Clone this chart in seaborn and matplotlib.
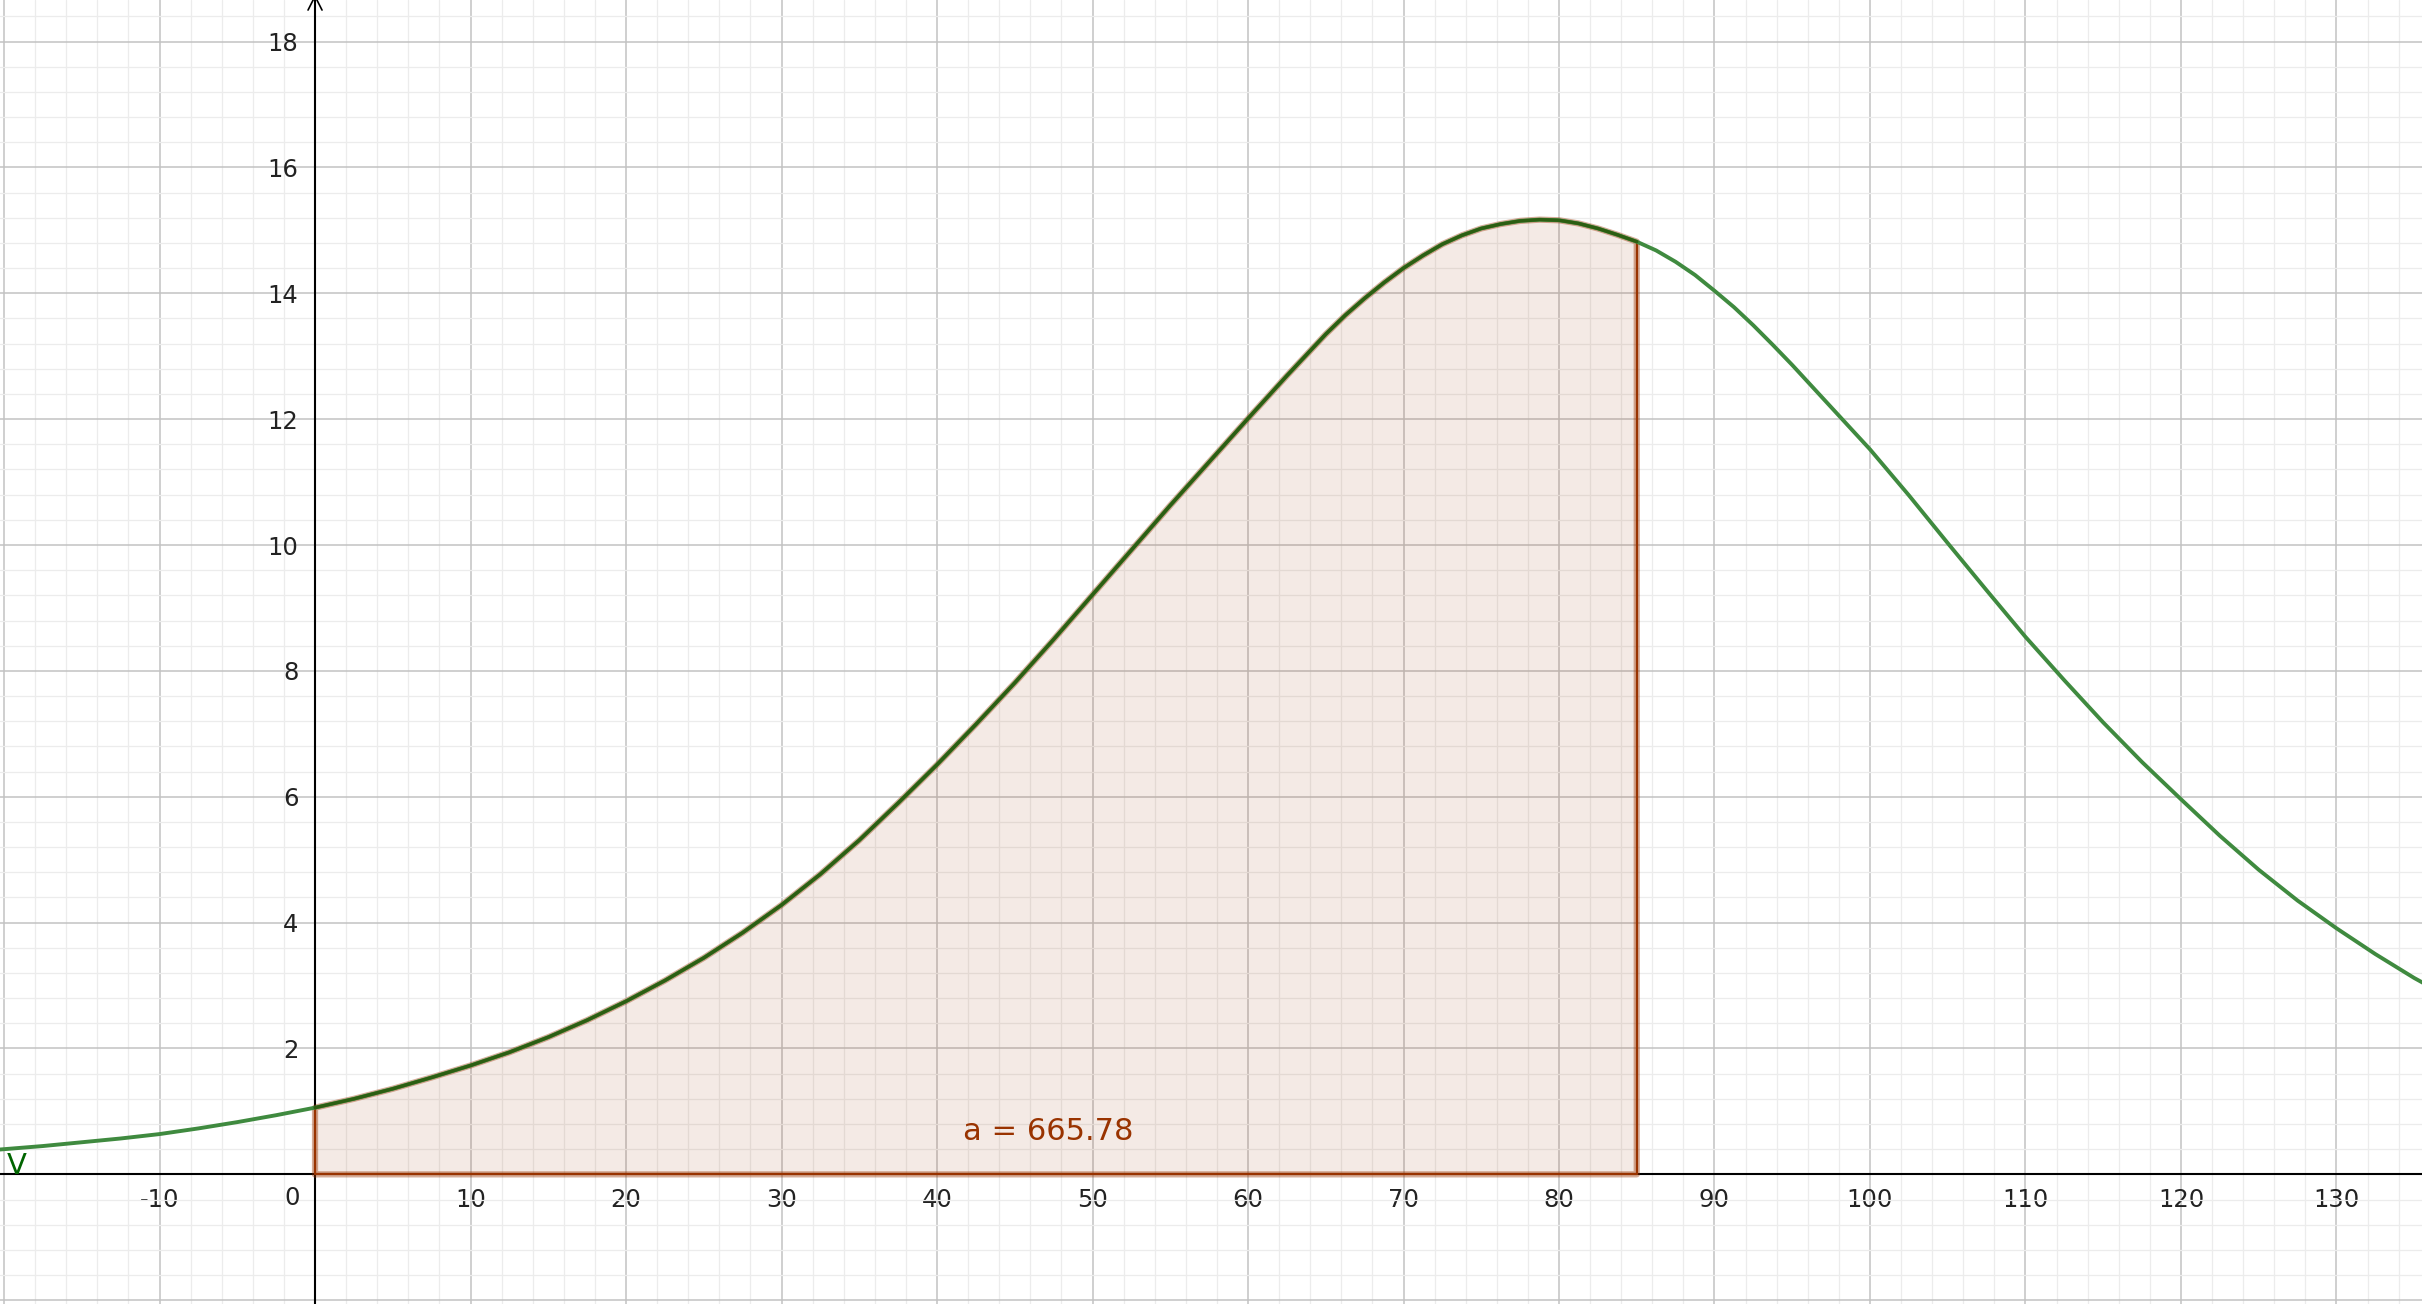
import numpy as np
import pandas as pd
import matplotlib.pyplot as plt
import seaborn as sns
from matplotlib.ticker import MultipleLocator, FuncFormatter

# значения функции V (у вершины шаг мельче)
x_vals = [-22.5, -20, -17.5, -15, -12.5, -10, -7.5, -5, -2.5, 0,
          2.5, 5, 7.5, 10, 12.5, 15, 17.5, 20, 22.5, 25,
          27.5, 30, 32.5, 35, 37.5, 40, 42.5, 45, 47.5, 50,
          52.5, 55, 57.5, 60, 62.5, 65, 66.25, 67.5, 68.75, 70,
          71.25, 72.5, 73.75, 75, 76.25, 77.5, 78.75, 80, 81.25, 82.5,
          83.75, 85, 86.25, 87.5, 88.75, 90, 91.25, 92.5, 93.75, 95,
          97.5, 100, 102.5, 105, 107.5, 110, 112.5, 115, 117.5, 120,
          122.5, 125, 127.5, 130, 132.5, 135, 137.5]
v_vals = [0.35, 0.40, 0.45, 0.51, 0.57, 0.64, 0.73, 0.83, 0.94, 1.06,
          1.20, 1.36, 1.54, 1.73, 1.94, 2.18, 2.45, 2.75, 3.08, 3.44,
          3.84, 4.28, 4.77, 5.31, 5.90, 6.51, 7.15, 7.81, 8.50, 9.21,
          9.92, 10.63, 11.32, 12.01, 12.69, 13.35, 13.65, 13.92, 14.17, 14.40,
          14.60, 14.78, 14.92, 15.03, 15.10, 15.15, 15.17, 15.16, 15.11, 15.03,
          14.93, 14.82, 14.68, 14.50, 14.29, 14.04, 13.78, 13.49, 13.18, 12.86,
          12.19, 11.52, 10.79, 10.03, 9.28, 8.54, 7.85, 7.18, 6.55, 5.96,
          5.38, 4.84, 4.35, 3.91, 3.50, 3.12, 2.78]

# границы закрашенной области и подпись интеграла
area_from = 0
area_to = 85
area_label = "a = 665.78"
func_label = "V"

x_ticks = [-20, -10, 0, 10, 20, 30, 40, 50, 60, 70, 80, 90, 100, 110, 120, 130]
y_ticks = [-2, 0, 2, 4, 6, 8, 10, 12, 14, 16, 18]

df = pd.DataFrame({'x': x_vals, 'v': v_vals})
reg = df[(df['x'] >= area_from) & (df['x'] <= area_to)]

sns.set_theme(style="white")
plt.rcParams['font.family'] = ['DejaVu Sans']

fig = plt.figure(figsize=(24.22, 13.04), dpi=100)
ax = fig.add_axes([0, 0, 1, 1])

# сетка как в GeoGebra
ax.xaxis.set_major_locator(plt.FixedLocator(x_ticks))
ax.yaxis.set_major_locator(plt.FixedLocator(y_ticks))
ax.xaxis.set_minor_locator(MultipleLocator(2))
ax.yaxis.set_minor_locator(MultipleLocator(0.4))
ax.grid(which='major', color='#c2c2c2', lw=1.1, zorder=0)
ax.grid(which='minor', color='#ececec', lw=0.9, zorder=0)
ax.set_axisbelow(True)

# закрашенная область под кривой
ax.fill_between(reg['x'], 0, reg['v'], color='#993300', alpha=0.1, lw=0, zorder=1)
bx = [area_from] + list(reg['x']) + [area_to, area_from]
by = [0] + list(reg['v']) + [0, 0]
ax.plot(bx, by, color='#993300', lw=4.5, alpha=0.4, zorder=3, solid_joinstyle='round')
ax.plot([area_from, area_from, area_to, area_to], [reg['v'].iloc[0], 0, 0, reg['v'].iloc[-1]],
        color='#993300', lw=1.6, zorder=3.1)

# сама функция
sns.lineplot(data=df, x='x', y='v', color='#3f8a3f', lw=2.8, ax=ax, zorder=4)
sns.lineplot(data=reg, x='x', y='v', color='#2c5e12', lw=2.4, ax=ax, zorder=4.1)

# оси через начало координат
for side in ['top', 'right']:
    ax.spines[side].set_visible(False)
ax.spines['left'].set_position(('data', 0))
ax.spines['bottom'].set_position(('data', 0))
for side in ['left', 'bottom']:
    ax.spines[side].set_color('black')
    ax.spines[side].set_linewidth(1.5)
    ax.spines[side].set_zorder(2.5)

ax.xaxis.set_major_formatter(FuncFormatter(lambda v, p: '' if v in (0, -20) else f'{v:.0f}'))
ax.yaxis.set_major_formatter(FuncFormatter(lambda v, p: '' if v <= 0 else f'{v:.0f}'))
ax.tick_params(axis='both', which='both', length=0, labelsize=17.5, labelcolor='#222222')
ax.tick_params(axis='y', pad=12)
ax.tick_params(axis='x', pad=10)

ax.set_xlim(-20.26, 135.5)
ax.set_ylim(-2.06, 18.66)
ax.set_xlabel('')
ax.set_ylabel('')

# стрелка оси y и подпись нуля
ax.plot([-0.45, 0, 0.45], [18.5, 18.72, 18.5], color='black', lw=1.2)
ax.text(-1.5, -0.37, '0', ha='center', va='center', fontsize=17.5, color='#222222')

ax.text(41.7, 0.68, area_label, ha='left', va='center', fontsize=22, color='#993300')
ax.text(-19.16, 0.13, func_label, ha='center', va='center', fontsize=21, color='#006400')

plt.savefig('out.png', dpi=100)
